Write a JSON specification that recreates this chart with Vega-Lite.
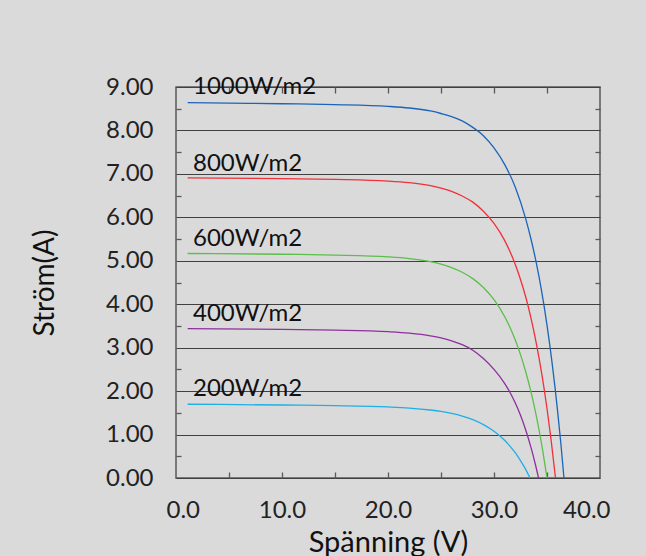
{
  "$schema": "https://vega.github.io/schema/vega-lite/v6.json",
  "width": 424,
  "height": 391,
  "autosize": "none",
  "padding": {"left": 176, "top": 87, "right": 46, "bottom": 78},
  "background": "#dadada",
  "config": {
    "view": {"stroke": "#595959", "strokeWidth": 1.5, "fill": "#dadada"},
    "font": "Lato"
  },
  "datasets": {
    "curves": [
      {"g": "1000", "v": 1.1, "i": 8.64}, {"g": "1000", "v": 5, "i": 8.63}, {"g": "1000", "v": 10, "i": 8.615}, {"g": "1000", "v": 15, "i": 8.595}, {"g": "1000", "v": 20, "i": 8.555}, {"g": "1000", "v": 22, "i": 8.517}, {"g": "1000", "v": 24, "i": 8.448}, {"g": "1000", "v": 25, "i": 8.39}, {"g": "1000", "v": 26, "i": 8.32}, {"g": "1000", "v": 27, "i": 8.22}, {"g": "1000", "v": 28, "i": 8.07}, {"g": "1000", "v": 29, "i": 7.88}, {"g": "1000", "v": 30, "i": 7.6}, {"g": "1000", "v": 31, "i": 7.22}, {"g": "1000", "v": 32, "i": 6.7}, {"g": "1000", "v": 33, "i": 5.96}, {"g": "1000", "v": 33.5, "i": 5.49}, {"g": "1000", "v": 34, "i": 4.94}, {"g": "1000", "v": 34.5, "i": 4.29}, {"g": "1000", "v": 35, "i": 3.52}, {"g": "1000", "v": 35.5, "i": 2.61}, {"g": "1000", "v": 36, "i": 1.54}, {"g": "1000", "v": 36.3, "i": 0.81}, {"g": "1000", "v": 36.6, "i": 0},
      {"g": "800", "v": 1.1, "i": 6.908}, {"g": "800", "v": 10, "i": 6.89}, {"g": "800", "v": 15, "i": 6.873}, {"g": "800", "v": 20, "i": 6.835}, {"g": "800", "v": 22, "i": 6.797}, {"g": "800", "v": 24, "i": 6.728}, {"g": "800", "v": 25, "i": 6.673}, {"g": "800", "v": 26, "i": 6.6}, {"g": "800", "v": 27, "i": 6.49}, {"g": "800", "v": 28, "i": 6.35}, {"g": "800", "v": 29, "i": 6.14}, {"g": "800", "v": 30, "i": 5.86}, {"g": "800", "v": 31, "i": 5.47}, {"g": "800", "v": 32, "i": 4.92}, {"g": "800", "v": 32.5, "i": 4.57}, {"g": "800", "v": 33, "i": 4.16}, {"g": "800", "v": 33.5, "i": 3.67}, {"g": "800", "v": 34, "i": 3.09}, {"g": "800", "v": 34.5, "i": 2.41}, {"g": "800", "v": 35, "i": 1.6}, {"g": "800", "v": 35.4, "i": 0.85}, {"g": "800", "v": 35.8, "i": 0},
      {"g": "600", "v": 1.1, "i": 5.168}, {"g": "600", "v": 10, "i": 5.15}, {"g": "600", "v": 15, "i": 5.132}, {"g": "600", "v": 20, "i": 5.091}, {"g": "600", "v": 22, "i": 5.051}, {"g": "600", "v": 24, "i": 4.979}, {"g": "600", "v": 25, "i": 4.922}, {"g": "600", "v": 26, "i": 4.844}, {"g": "600", "v": 27, "i": 4.736}, {"g": "600", "v": 28, "i": 4.589}, {"g": "600", "v": 29, "i": 4.385}, {"g": "600", "v": 30, "i": 4.104}, {"g": "600", "v": 31, "i": 3.716}, {"g": "600", "v": 31.5, "i": 3.47}, {"g": "600", "v": 32, "i": 3.18}, {"g": "600", "v": 32.5, "i": 2.84}, {"g": "600", "v": 33, "i": 2.44}, {"g": "600", "v": 33.5, "i": 1.97}, {"g": "600", "v": 34, "i": 1.42}, {"g": "600", "v": 34.5, "i": 0.77}, {"g": "600", "v": 35, "i": 0},
      {"g": "400", "v": 1.1, "i": 3.438}, {"g": "400", "v": 10, "i": 3.42}, {"g": "400", "v": 15, "i": 3.404}, {"g": "400", "v": 20, "i": 3.368}, {"g": "400", "v": 22, "i": 3.334}, {"g": "400", "v": 24, "i": 3.273}, {"g": "400", "v": 25, "i": 3.225}, {"g": "400", "v": 26, "i": 3.159}, {"g": "400", "v": 27, "i": 3.068}, {"g": "400", "v": 28, "i": 2.942}, {"g": "400", "v": 29, "i": 2.75}, {"g": "400", "v": 30, "i": 2.5}, {"g": "400", "v": 31, "i": 2.18}, {"g": "400", "v": 31.5, "i": 1.975}, {"g": "400", "v": 32, "i": 1.73}, {"g": "400", "v": 32.5, "i": 1.443}, {"g": "400", "v": 33, "i": 1.098}, {"g": "400", "v": 33.5, "i": 0.692}, {"g": "400", "v": 33.9, "i": 0.316}, {"g": "400", "v": 34.2, "i": 0},
      {"g": "200", "v": 1.1, "i": 1.698}, {"g": "200", "v": 10, "i": 1.68}, {"g": "200", "v": 15, "i": 1.665}, {"g": "200", "v": 20, "i": 1.635}, {"g": "200", "v": 22, "i": 1.61}, {"g": "200", "v": 24, "i": 1.565}, {"g": "200", "v": 25, "i": 1.532}, {"g": "200", "v": 26, "i": 1.486}, {"g": "200", "v": 27, "i": 1.425}, {"g": "200", "v": 28, "i": 1.342}, {"g": "200", "v": 29, "i": 1.229}, {"g": "200", "v": 30, "i": 1.076}, {"g": "200", "v": 30.5, "i": 0.979}, {"g": "200", "v": 31, "i": 0.867}, {"g": "200", "v": 31.5, "i": 0.735}, {"g": "200", "v": 32, "i": 0.582}, {"g": "200", "v": 32.5, "i": 0.402}, {"g": "200", "v": 33, "i": 0.193}, {"g": "200", "v": 33.4, "i": 0}
    ],
    "labels": [
      {"t": "1000W/m2", "v": 1.6, "i": 9.0},
      {"t": "800W/m2", "v": 1.6, "i": 7.22},
      {"t": "600W/m2", "v": 1.6, "i": 5.49},
      {"t": "400W/m2", "v": 1.6, "i": 3.77},
      {"t": "200W/m2", "v": 1.6, "i": 2.04}
    ]
  },
  "resolve": {"axis": {"x": "independent", "y": "independent"}},
  "layer": [
    {
      "data": {"name": "curves"},
      "mark": {"type": "line", "interpolate": "monotone", "strokeWidth": 1.3},
      "encoding": {
        "x": {"field": "v", "type": "quantitative",
              "scale": {"domain": [0, 40], "nice": false, "zero": false},
              "axis": {"orient": "bottom", "values": [0, 10, 20, 30, 40], "format": ".1f", "ticks": false, "domain": false, "grid": false,
                       "labelFlush": true, "labelFlushOffset": 10,
                       "labelFontSize": 24, "labelColor": "#222", "labelPadding": 20, "labelFont": "Lato",
                       "title": "Spänning (V)", "titleFontSize": 29, "titleFontWeight": "normal", "titleColor": "#111", "titlePadding": 6, "titleFont": "Lato"}},
        "y": {"field": "i", "type": "quantitative",
              "scale": {"domain": [0, 9], "nice": false},
              "axis": {"orient": "left", "values": [0, 1, 2, 3, 4, 5, 6, 7, 8, 9], "format": ".2f", "ticks": false, "domain": false,
                       "grid": true, "gridColor": "#404040", "gridWidth": 1.2, "gridOpacity": 1,
                       "labelFontSize": 24, "labelColor": "#222", "labelPadding": 23, "labelFont": "Lato",
                       "title": "Ström(A)", "titleFontSize": 28, "titleFontWeight": "normal", "titleColor": "#111", "titlePadding": 46, "titleFont": "Lato"}},
        "color": {"field": "g", "type": "nominal", "legend": null,
                  "scale": {"domain": ["1000", "800", "600", "400", "200"], "range": ["#1b64bb", "#f0303a", "#5bbf4b", "#8e2f9e", "#1eaee8"]}},
        "order": {"field": "v", "type": "quantitative"}
      }
    },
    {
      "data": {"name": "labels"},
      "mark": {"type": "text", "align": "left", "baseline": "middle", "fontSize": 24, "font": "Lato", "color": "#111"},
      "encoding": {
        "x": {"field": "v", "type": "quantitative", "scale": {"domain": [0, 40], "nice": false, "zero": false}, "axis": null},
        "y": {"field": "i", "type": "quantitative", "scale": {"domain": [0, 9], "nice": false}, "axis": null},
        "text": {"field": "t"}
      }
    },
    {
      "data": {"name": "labels"},
      "mark": {"type": "point", "opacity": 0},
      "encoding": {
        "x": {"field": "v", "type": "quantitative", "scale": {"domain": [0, 40], "nice": false, "zero": false},
              "axis": {"orient": "bottom", "values": [5, 10, 15, 20, 25, 30, 35], "labels": false, "domain": false, "grid": false, "ticks": true, "tickSize": -6, "tickColor": "#595959", "tickWidth": 1.3, "title": null}},
        "y": {"field": "i", "type": "quantitative", "scale": {"domain": [0, 9], "nice": false},
              "axis": {"orient": "left", "values": [0.5, 1.5, 2.5, 3.5, 4.5, 5.5, 6.5, 7.5, 8.5], "labels": false, "domain": false, "grid": false, "ticks": true, "tickSize": -5, "tickColor": "#595959", "tickWidth": 1.3, "title": null}}
      }
    },
    {
      "data": {"name": "labels"},
      "mark": {"type": "point", "opacity": 0},
      "encoding": {
        "x": {"field": "v", "type": "quantitative", "scale": {"domain": [0, 40], "nice": false, "zero": false},
              "axis": {"orient": "top", "values": [5, 10, 15, 20, 25, 30, 35], "labels": false, "domain": false, "grid": false, "ticks": true, "tickSize": -6, "tickColor": "#595959", "tickWidth": 1.3, "title": null}},
        "y": {"field": "i", "type": "quantitative", "scale": {"domain": [0, 9], "nice": false},
              "axis": {"orient": "right", "values": [0.5, 1.5, 2.5, 3.5, 4.5, 5.5, 6.5, 7.5, 8.5], "labels": false, "domain": false, "grid": false, "ticks": true, "tickSize": -5, "tickColor": "#595959", "tickWidth": 1.3, "title": null}}
      }
    }
  ]
}
